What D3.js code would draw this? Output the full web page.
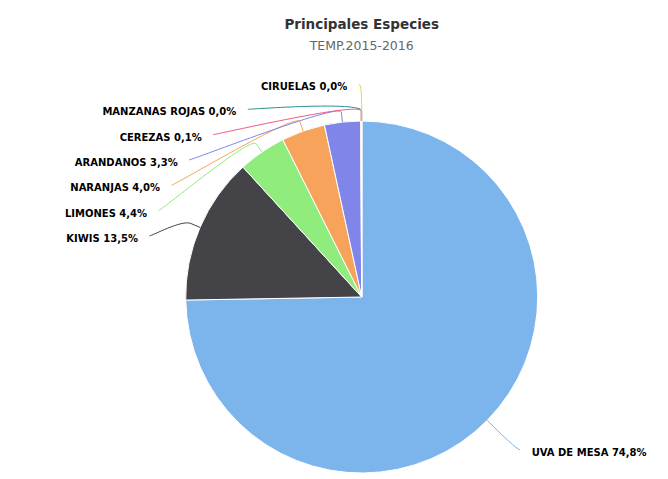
<!DOCTYPE html>
<html>
<head>
<meta charset="utf-8">
<script src="https://cdn.jsdelivr.net/npm/d3@7"></script>
<style>
  body { margin: 0; background: #fff; }
  svg { display: block; font-family: "DejaVu Sans", sans-serif; }
</style>
</head>
<body>
<svg id="chart"></svg>
<script>
// data (percent of total)
const categories = ['UVA DE MESA', 'KIWIS', 'LIMONES', 'NARANJAS', 'ARANDANOS', 'CEREZAS', 'MANZANAS ROJAS', 'CIRUELAS'];
const shares = [74.8, 13.5, 4.4, 4.0, 3.3, 0.1, 0.0, 0.0];
const colors = ['#7cb5ec', '#434348', '#90ed7d', '#f7a35c', '#8085e9', '#f15c80', '#2b908f', '#e4d354'];
const title = 'Principales Especies';
const subtitle = 'TEMP.2015-2016';

const width = 668, height = 479;
const cx = 361.7, cy = 297, r = 176;
const labelR = r + 42;     // circle the label anchors sit on
const labelStep = 25.3;    // vertical spacing between stacked labels

const svg = d3.select('#chart')
  .attr('width', width)
  .attr('height', height);

svg.append('text')
  .attr('x', cx).attr('y', 29)
  .attr('text-anchor', 'middle')
  .attr('font-size', '13.5px')
  .attr('font-weight', 'bold')
  .attr('fill', '#333333')
  .text(title);

svg.append('text')
  .attr('x', cx).attr('y', 50)
  .attr('text-anchor', 'middle')
  .attr('font-size', '12.5px')
  .attr('fill', '#666666')
  .text(subtitle);

const pie = d3.pie().sort(null).value(d => d.value);
const arcs = pie(categories.map((c, i) => ({ name: c, value: shares[i], color: colors[i], idx: i })));

const arc = d3.arc().innerRadius(0).outerRadius(r);

const g = svg.append('g').attr('transform', `translate(${cx},${cy})`);

g.selectAll('path.slice')
  .data(arcs)
  .join('path')
  .attr('class', 'slice')
  .attr('d', arc)
  .attr('fill', d => d.data.color)
  .attr('stroke', '#ffffff')
  .attr('stroke-width', 1)
  .attr('stroke-linejoin', 'round');

// label placement: natural spot on the label circle, then stack so they don't overlap
arcs.forEach(d => {
  d.mid = (d.startAngle + d.endAngle) / 2;
  d.left = d.mid > Math.PI;
  d.naturalY = -Math.cos(d.mid) * labelR;
  d.naturalX = Math.sin(d.mid) * labelR;
});

const topY = -labelR + 5;
['left', 'right'].forEach(side => {
  const list = arcs.filter(d => (side === 'left') === d.left)
    .sort((a, b) => (a.naturalY - b.naturalY) || (b.data.idx - a.data.idx));
  let prev = -Infinity;
  list.forEach((d, i) => {
    d.ly = Math.max(d.naturalY, topY, prev + labelStep);
    prev = d.ly;
    const sign = d.left ? -1 : 1;
    if (i === 0 && d.ly === topY) {
      d.lx = d.naturalX;   // pinned at the top: keep the natural x
    } else {
      d.lx = sign * Math.sqrt(Math.max(0, labelR * labelR - d.ly * d.ly));
    }
  });
});

const connector = d => {
  const sx = Math.sin(d.mid), sy = -Math.cos(d.mid);
  const ex = sx * r, ey = sy * r;
  const bx = sx * (r + 10), by = sy * (r + 10);
  const start = d.lx + (d.left ? -3 : 3);
  const p = d3.path();
  p.moveTo(start, d.ly);
  p.bezierCurveTo(d.lx, d.ly, 2 * bx - ex, 2 * by - ey, bx, by);
  p.lineTo(ex, ey);
  return p.toString();
};

g.selectAll('path.connector')
  .data(arcs)
  .join('path')
  .attr('class', 'connector')
  .attr('d', connector)
  .attr('fill', 'none')
  .attr('stroke', d => d.data.color)
  .attr('stroke-width', 1);

g.selectAll('text.label')
  .data(arcs)
  .join('text')
  .attr('class', 'label')
  .attr('x', d => d.lx + (d.left ? -14.5 : 14.5))
  .attr('y', d => d.ly + 6)
  .attr('text-anchor', d => d.left ? 'end' : 'start')
  .attr('font-size', '10px')
  .attr('font-weight', 'bold')
  .attr('fill', '#000000')
  .text(d => `${d.data.name} ${d.data.value.toFixed(1).replace('.', ',')}%`);
</script>
</body>
</html>
